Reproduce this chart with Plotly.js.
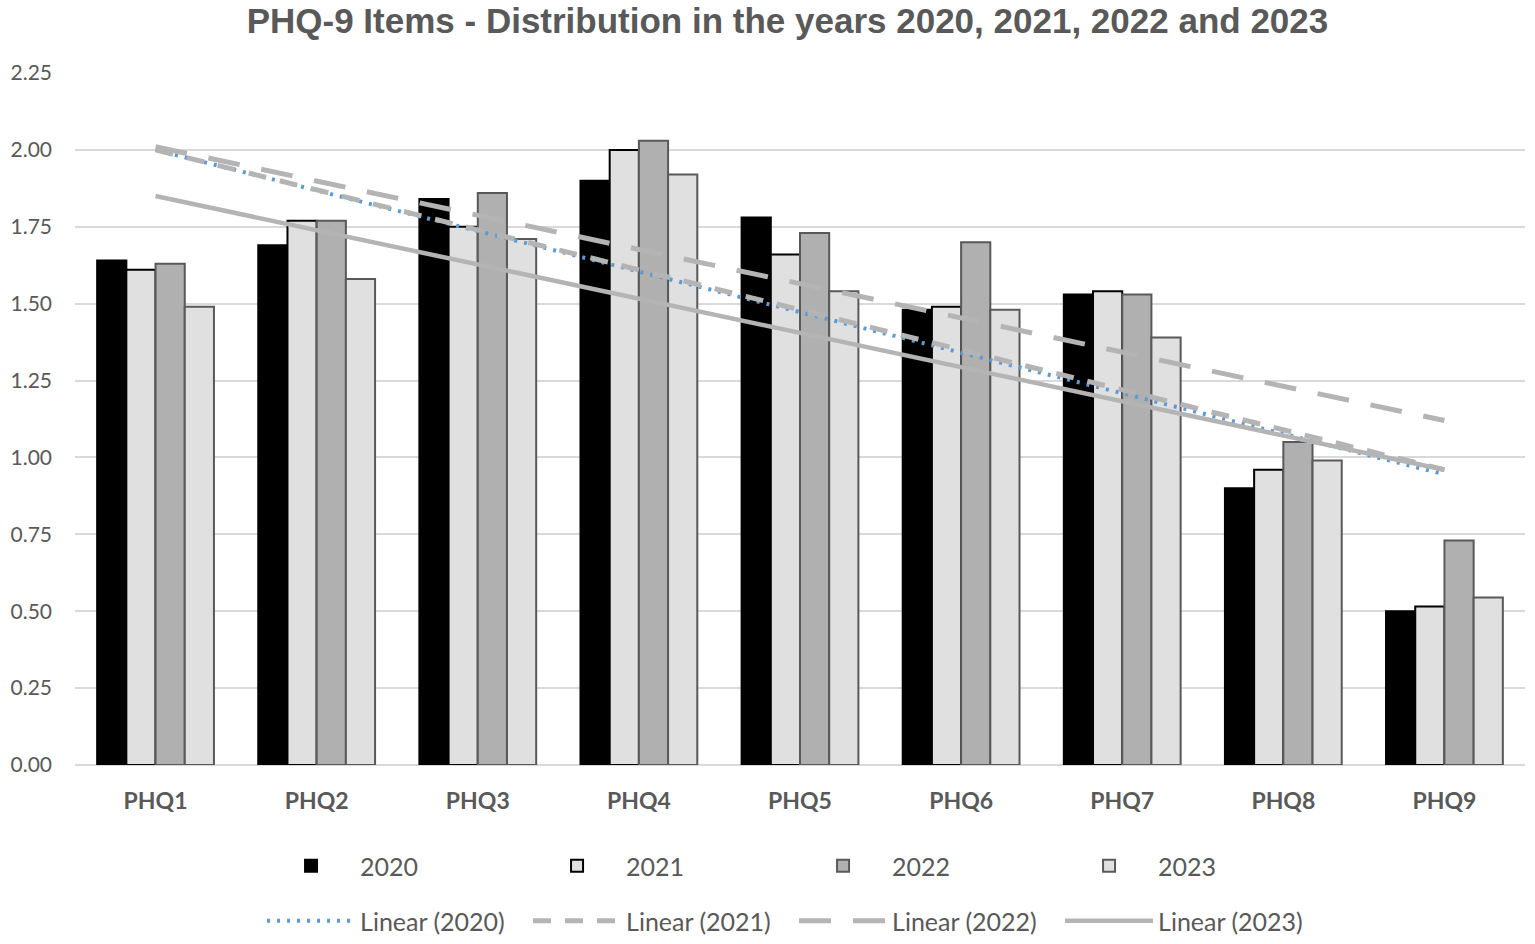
<!DOCTYPE html>
<html>
<head>
<meta charset="utf-8">
<script src="https://cdn.plot.ly/plotly-3.0.1.min.js"></script>
<style>
  html, body { margin: 0; padding: 0; background: #fff; }
  #chart { width: 1535px; height: 944px; }
</style>
</head>
<body>
<div id="chart"></div>
<script>
// PHQ-9 item means
const items = ['PHQ1', 'PHQ2', 'PHQ3', 'PHQ4', 'PHQ5', 'PHQ6', 'PHQ7', 'PHQ8', 'PHQ9'];
const y2020 = [1.64, 1.69, 1.84, 1.90, 1.78, 1.48, 1.53, 0.90, 0.50];
const y2021 = [1.61, 1.77, 1.75, 2.00, 1.66, 1.49, 1.54, 0.96, 0.515];
const y2022 = [1.63, 1.77, 1.86, 2.03, 1.73, 1.70, 1.53, 1.05, 0.73];
const y2023 = [1.49, 1.58, 1.71, 1.92, 1.54, 1.48, 1.39, 0.99, 0.545];

// trendline end values at PHQ1 and PHQ9, as drawn in the original
const trendX = ['PHQ1', 'PHQ9'];
const trend2020 = [2.00, 0.945];
const trend2021 = [2.00, 0.96];
const trend2022 = [2.01, 1.12];
const trend2023 = [1.85, 0.96];

const TXT = '#595959';
const GRID = '#d9d9d9';
const TREND = '#b4b4b4';
const FONT = 'Lato, "Open Sans", sans-serif';

const bar = (name, y, fill, edge) => ({
  type: 'bar',
  name: name,
  x: items,
  y: y,
  marker: { color: fill, line: { color: edge, width: 2 } },
  legend: 'legend',
  hoverinfo: 'x+y+name',
});

const trend = (name, y, line) => ({
  type: 'scatter',
  mode: 'lines',
  name: name,
  x: trendX,
  y: y,
  line: line,
  legend: 'legend2',
  hoverinfo: 'skip',
});

const traces = [
  bar('2020', y2020, '#000000', '#000000'),
  bar('2021', y2021, '#e0e0e0', '#000000'),
  bar('2022', y2022, '#b0b0b0', '#595959'),
  bar('2023', y2023, '#e0e0e0', '#595959'),
  trend('Linear (2020)', trend2020, { color: '#5b9bd5', width: 4, dash: '3px,7px' }),
  trend('Linear (2021)', trend2021, { color: TREND, width: 5, dash: '18px,14px' }),
  trend('Linear (2022)', trend2022, { color: TREND, width: 5, dash: '32px,22px' }),
  trend('Linear (2023)', trend2023, { color: TREND, width: 4.5 }),
];

const legendBase = {
  orientation: 'h',
  x: 0.129,
  xanchor: 'left',
  yref: 'container',
  yanchor: 'middle',
  entrywidth: 163,
  entrywidthmode: 'pixels',
  itemwidth: 88,
  font: { family: FONT, size: 25, color: TXT },
  bgcolor: 'rgba(0,0,0,0)',
};

const layout = {
  width: 1535,
  height: 944,
  paper_bgcolor: '#ffffff',
  plot_bgcolor: '#ffffff',
  margin: { l: 75, r: 10, t: 73, b: 179 },
  title: {
    text: '<b>PHQ-9 Items - Distribution in the years 2020, 2021, 2022 and 2023</b>',
    font: { family: '"Liberation Sans", Arial, sans-serif', size: 35, color: TXT },
    x: 0.513,
    xref: 'container',
    xanchor: 'center',
    y: 1 - 21 / 944,
    yref: 'container',
    yanchor: 'middle',
  },
  barmode: 'group',
  bargap: 0.275,
  bargroupgap: 0,
  xaxis: {
    type: 'category',
    showgrid: false,
    showline: false,
    ticks: '',
    tickfont: { family: FONT, size: 23, color: TXT, weight: 'bold' },
    ticklabelstandoff: 20,
  },
  yaxis: {
    range: [0, 2.25],
    tickvals: [0, 0.25, 0.5, 0.75, 1.0, 1.25, 1.5, 1.75, 2.0, 2.25],
    tickformat: '.2f',
    showgrid: true,
    gridcolor: GRID,
    gridwidth: 2,
    zeroline: true,
    zerolinecolor: GRID,
    zerolinewidth: 2,
    showline: false,
    ticks: '',
    tickfont: { family: FONT, size: 21, color: TXT },
    ticklabelstandoff: 22,
  },
  showlegend: true,
  legend: Object.assign({}, legendBase, { y: 1 - 866 / 944 }),
  legend2: Object.assign({}, legendBase, { y: 1 - 921 / 944 }),
};

Plotly.newPlot('chart', traces, layout, { displayModeBar: false, responsive: false });
</script>
</body>
</html>
